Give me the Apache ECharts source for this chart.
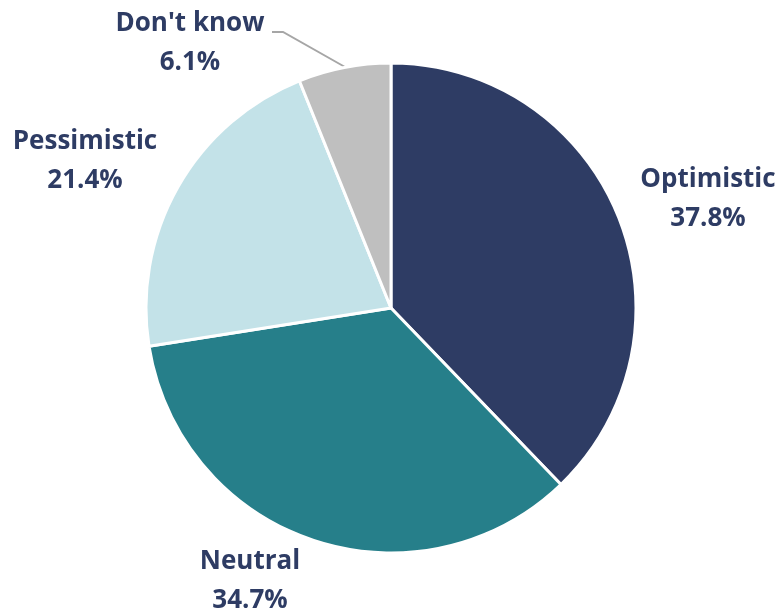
<!DOCTYPE html>
<html><head><meta charset="utf-8">
<script src="https://cdn.jsdelivr.net/npm/echarts@6/dist/echarts.min.js"></script>
<style>html,body{margin:0;padding:0;background:#fff}#c{width:782px;height:615px}</style>
</head><body><div id="c"></div>
<script>
const categories = ["Optimistic", "Neutral", "Pessimistic", "Don't know"];
const values = [37.8, 34.7, 21.4, 6.1];
const colors = ["#2e3c64", "#267f8a", "#c3e2e8", "#bfbfbf"];

const labelPos = [
  {x: 708, y: 199},
  {x: 250, y: 581},
  {x: 85, y: 161},
  {x: 190, y: 43}
];

const chart = echarts.init(document.getElementById('c'));
chart.setOption({
  animation: false,
  series: [{
    type: 'pie',
    center: [391, 308],
    radius: [0, 245],
    startAngle: 90,
    clockwise: true,
    data: categories.map((c, i) => ({name: c, value: values[i], itemStyle: {color: colors[i]},
      labelLine: {show: i === 3}})),
    itemStyle: {borderColor: '#fff', borderWidth: 3},
    label: {
      show: true,
      position: 'outside',
      overflow: 'none',
      formatter: p => p.name + '\n' + p.value.toFixed(1) + '%',
      fontFamily: '"Open Sans", sans-serif',
      fontWeight: 'bold',
      fontSize: 26,
      lineHeight: 39,
      color: '#2e3c64',
      align: 'center'
    },
    labelLine: {lineStyle: {color: '#a6a6a6', width: 2}},
    labelLayout: function (params) {
      const p = labelPos[params.dataIndex];
      const r = {x: p.x, y: p.y, align: 'center', verticalAlign: 'middle', width: 220};
      if (params.dataIndex === 3) {
        r.labelLinePoints = [[272, 32], [283, 32], [345, 67]];
      }
      return r;
    }
  }]
});
</script></body></html>
